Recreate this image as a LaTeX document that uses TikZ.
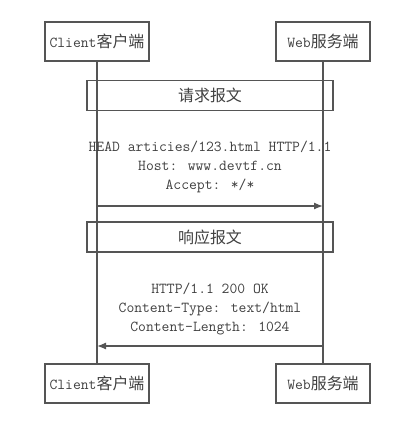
\documentclass[tikz,border=0pt]{standalone}
\usepackage{fontspec}
\newfontfamily\cjk[Scale=1.05]{Noto Sans CJK SC}
\usetikzlibrary{arrows.meta}
\definecolor{ink}{HTML}{555555}
\definecolor{txt}{HTML}{404040}

\begin{document}
\begin{tikzpicture}[x=1pt,y=-1pt,
  actor/.style={draw=ink,line width=1.3pt,minimum height=39pt,inner sep=0pt,
    text=txt,font=\ttfamily\fontsize{15.2}{18}\selectfont},
  msgbox/.style={draw=ink,line width=1.3pt,minimum width=246pt,minimum height=30pt,
    inner sep=0pt,text=txt,font=\ttfamily\fontsize{15.2}{18}\selectfont},
  msg/.style={align=center,inner sep=0pt,text=txt,font=\ttfamily\fontsize{15.2}{19}\selectfont},
  life/.style={draw=ink,line width=1.3pt}]
  \useasboundingbox (0,0) rectangle (418,432);
  % the two parties, top and bottom
  \node[actor,minimum width=104pt] (c1) at (97,41.5) {Client{\cjk 客户端}};
  \node[actor,minimum width=94pt]  (s1) at (323,41.5) {Web{\cjk 服务端}};
  \node[actor,minimum width=104pt] (c2) at (97,383.5) {Client{\cjk 客户端}};
  \node[actor,minimum width=94pt]  (s2) at (323,383.5) {Web{\cjk 服务端}};
  \path[life] (c1) -- (c2)
              (s1) -- (s2);
  % request
  \node[msgbox] (req) at (210,95.5) {{\cjk 请求报文}};
  \node[msg] (reqtxt) at (210,167) {HEAD articies/123.html HTTP/1.1\\
    Host: www.devtf.cn\\ Accept: */*};
  \coordinate (qa) at (97,206);
  \coordinate (qb) at (323,206);
  \draw[life,-{Latex[length=9pt,width=7pt]}] (qa) -- (qb);
  % response
  \node[msgbox] (resp) at (210,237) {{\cjk 响应报文}};
  \node[msg] (resptxt) at (210,308.5) {HTTP/1.1 200 OK\\
    Content-Type: text/html\\ Content-Length: 1024};
  \coordinate (ra) at (323,346);
  \coordinate (rb) at (97,346);
  \draw[life,-{Latex[length=9pt,width=7pt]}] (ra) -- (rb);
\end{tikzpicture}
\end{document}
